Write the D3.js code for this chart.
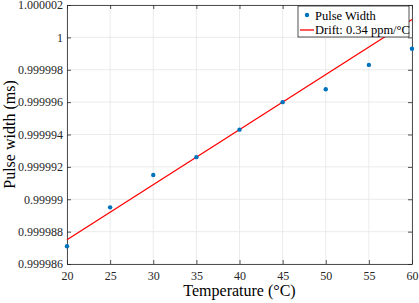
<!DOCTYPE html>
<html>
<head>
<meta charset="utf-8">
<script src="https://cdn.jsdelivr.net/npm/d3@7"></script>
<style>
  body { margin: 0; background: #fff; }
  text { font-family: "Liberation Serif", "Times New Roman", serif; }
</style>
</head>
<body>
<div id="chart"></div>
<script>
// data
const temps = [20, 25, 30, 35, 40, 45, 50, 55, 60];
const pulseWidth = [0.9999871, 0.9999895, 0.9999915, 0.9999926, 0.9999943, 0.9999960, 0.9999968, 0.9999983, 0.9999993];
// fitted drift line, endpoints
const fitTemps = [20, 60];
const fitValues = [0.9999875, 1.0000011];

const xTicks = [20, 25, 30, 35, 40, 45, 50, 55, 60];
const yTicks = [0.999986, 0.999988, 0.99999, 0.999992, 0.999994, 0.999996, 0.999998, 1, 1.000002];
const yTickLabels = ["0.999986", "0.999988", "0.99999", "0.999992", "0.999994", "0.999996", "0.999998", "1", "1.000002"];

const legendLabels = ["Pulse Width", "Drift: 0.34 ppm/\u00B0C"];

// Set up the SVG canvas dimensions
const W = 419, H = 303;
const margin = { top: 5, right: 7, bottom: 39, left: 67 };
const width = W - margin.left - margin.right;
const height = H - margin.top - margin.bottom;

const axisColor = "#262626";

const x = d3.scaleLinear().domain([20, 60]).range([0, width]);
const y = d3.scaleLinear().domain([0.999986, 1.000002]).range([height, 0]);

const svg = d3.select("#chart").append("svg")
  .attr("width", W)
  .attr("height", H);

const g = svg.append("g")
  .attr("transform", `translate(${margin.left},${margin.top})`);

// grid
g.append("g")
  .selectAll("line")
  .data(xTicks)
  .enter().append("line")
  .attr("x1", d => x(d)).attr("x2", d => x(d))
  .attr("y1", 0).attr("y2", height)
  .attr("stroke", "#e6e6e6").attr("stroke-width", 0.8);

g.append("g")
  .selectAll("line")
  .data(yTicks)
  .enter().append("line")
  .attr("x1", 0).attr("x2", width)
  .attr("y1", d => y(d)).attr("y2", d => y(d))
  .attr("stroke", "#e6e6e6").attr("stroke-width", 0.8);

// axes (ticks point inward, like matlab)
const xAxis = d3.axisBottom(x).tickValues(xTicks).tickSizeInner(-4).tickSizeOuter(0).tickPadding(7);
const yAxis = d3.axisLeft(y).tickValues(yTicks)
  .tickFormat((d, i) => yTickLabels[i]).tickSizeInner(-4).tickSizeOuter(0).tickPadding(4);

const gx = g.append("g")
  .attr("transform", `translate(0,${height})`)
  .call(xAxis);
const gy = g.append("g").call(yAxis);

// top & right ticks
g.append("g").call(d3.axisTop(x).tickValues(xTicks).tickSizeInner(-4).tickSizeOuter(0).tickFormat(""));
g.append("g").attr("transform", `translate(${width},0)`)
  .call(d3.axisRight(y).tickValues(yTicks).tickSizeInner(-4).tickSizeOuter(0).tickFormat(""));

g.selectAll(".domain").attr("stroke", axisColor).attr("stroke-width", 0.8);
g.selectAll(".tick line").attr("stroke", axisColor).attr("stroke-width", 0.8);
g.selectAll(".tick text")
  .attr("fill", axisColor)
  .style("font-size", "12px")
  .style("font-family", "'Liberation Serif', serif");

// drift line
const line = d3.line()
  .x(d => x(d[0]))
  .y(d => y(d[1]));

g.append("path")
  .datum(fitTemps.map((t, i) => [t, fitValues[i]]))
  .attr("fill", "none")
  .attr("stroke", "#ff0000")
  .attr("stroke-width", 1.3)
  .attr("d", line);

// measured points
g.append("g")
  .selectAll("circle")
  .data(temps.map((t, i) => [t, pulseWidth[i]]))
  .enter().append("circle")
  .attr("cx", d => x(d[0]))
  .attr("cy", d => y(d[1]))
  .attr("r", 2.2)
  .attr("fill", "#0072BD");

// axis labels
svg.append("text")
  .attr("x", margin.left + width / 2)
  .attr("y", 296)
  .attr("text-anchor", "middle")
  .attr("fill", "#000")
  .style("font-size", "16px")
  .text("Temperature (\u00B0C)");

svg.append("text")
  .attr("transform", `translate(15,${margin.top + height / 2}) rotate(-90)`)
  .attr("text-anchor", "middle")
  .attr("fill", "#000")
  .style("font-size", "16px")
  .text("Pulse width (ms)");

// Add legend
const legend = svg.append("g").attr("transform", "translate(298,6)");
legend.append("rect")
  .attr("width", 111).attr("height", 31)
  .attr("fill", "#fff")
  .attr("stroke", axisColor).attr("stroke-width", 0.8);

legend.append("circle")
  .attr("cx", 9).attr("cy", 9).attr("r", 2.2).attr("fill", "#0072BD");
legend.append("line")
  .attr("x1", 2).attr("x2", 16).attr("y1", 24).attr("y2", 24)
  .attr("stroke", "#ff0000").attr("stroke-width", 1.3);

legend.selectAll("text.lbl")
  .data(legendLabels)
  .enter().append("text")
  .attr("class", "lbl")
  .attr("x", 17)
  .attr("y", (d, i) => 13.5 + i * 14.5)
  .attr("fill", "#000")
  .style("font-size", "12.5px")
  .text(d => d);
</script>
</body>
</html>
